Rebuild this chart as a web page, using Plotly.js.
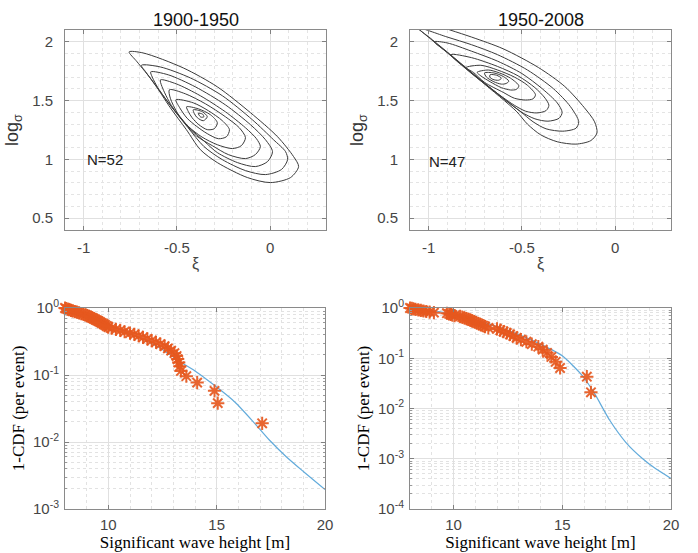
<!DOCTYPE html>
<html><head><meta charset="utf-8">
<script src="https://cdn.plot.ly/plotly-3.0.1.min.js"></script>
<style>html,body{margin:0;padding:0;background:#fff;}#chart{width:698px;height:553px;}</style>
</head><body><div id="chart"></div>
<script>
// ---------- Panel titles / labels ----------
const panelTitles = ['1900-1950', '1950-2008'];
const sampleLabels = ['N=52', 'N=47'];

// ---------- Top-left: likelihood contours (xi, log sigma), 1900-1950 ----------
const tlC1x = [-0.756,-0.681,-0.466,-0.283,-0.105,0.040,0.126,0.153,0.110,0.002,-0.122,-0.283,-0.374,-0.449,-0.535,-0.627,-0.713,-0.756];
const tlC1y = [1.914,1.905,1.778,1.617,1.397,1.193,1.024,0.939,0.846,0.803,0.846,0.973,1.083,1.253,1.439,1.659,1.829,1.914];
const tlC2x = [-0.690,-0.589,-0.428,-0.256,-0.095,0.018,0.083,0.094,0.061,-0.025,-0.132,-0.256,-0.355,-0.44,-0.53,-0.615,-0.665,-0.690];
const tlC2y = [1.800,1.786,1.693,1.541,1.337,1.168,1.066,0.998,0.914,0.871,0.905,0.998,1.11,1.27,1.45,1.63,1.74,1.800];
const tlC3x = [-0.640,-0.546,-0.401,-0.240,-0.105,-0.025,0.013,-0.014,-0.079,-0.175,-0.283,-0.350,-0.440,-0.525,-0.602,-0.632,-0.640];
const tlC3y = [1.744,1.719,1.617,1.464,1.295,1.168,1.066,0.981,0.939,0.973,1.058,1.15,1.28,1.44,1.61,1.70,1.744];
const tlC4x = [-0.588,-0.503,-0.374,-0.240,-0.132,-0.073,-0.052,-0.079,-0.132,-0.224,-0.310,-0.395,-0.458,-0.530,-0.580,-0.588];
const tlC4y = [1.676,1.642,1.541,1.405,1.269,1.176,1.108,1.041,1.007,1.041,1.117,1.20,1.31,1.46,1.62,1.676];
const tlC5x = [-0.540,-0.455,-0.347,-0.240,-0.165,-0.132,-0.154,-0.202,-0.283,-0.365,-0.438,-0.495,-0.535,-0.540];
const tlC5y = [1.592,1.558,1.473,1.363,1.269,1.185,1.117,1.092,1.125,1.19,1.28,1.39,1.52,1.592];
const tlC6x = [-0.505,-0.412,-0.331,-0.256,-0.218,-0.234,-0.277,-0.337,-0.393,-0.445,-0.485,-0.505];
const tlC6y = [1.507,1.481,1.414,1.329,1.253,1.193,1.176,1.219,1.28,1.35,1.44,1.507];
const tlC7x = [-0.448,-0.385,-0.320,-0.283,-0.299,-0.337,-0.382,-0.418,-0.438,-0.448];
const tlC7y = [1.447,1.430,1.380,1.312,1.261,1.253,1.295,1.354,1.405,1.447];
const tlC8x = [-0.412,-0.363,-0.337,-0.358,-0.39,-0.406,-0.412];
const tlC8y = [1.422,1.405,1.363,1.329,1.354,1.388,1.422];
const tlC9x = [-0.385,-0.362,-0.355,-0.372,-0.385];
const tlC9y = [1.392,1.385,1.362,1.360,1.392];

// ---------- Top-right: likelihood contours, 1950-2008 ----------
const trC1x = [-1.20,-1.10,-1.00,-0.77,-0.60,-0.41,-0.27,-0.165,-0.11,-0.097,-0.13,-0.21,-0.31,-0.40,-0.47,-0.53,-0.72,-0.88,-1.04,-1.20];
const trC1y = [2.30,2.22,2.16,2.04,1.94,1.78,1.62,1.44,1.32,1.225,1.16,1.13,1.15,1.21,1.30,1.41,1.667,1.88,2.09,2.30];
const trC2x = [-1.06,-0.90,-0.77,-0.63,-0.47,-0.33,-0.24,-0.195,-0.21,-0.28,-0.37,-0.44,-0.51,-0.61,-0.755,-0.875,-0.99,-1.06];
const trC2y = [2.12,2.04,1.975,1.89,1.76,1.60,1.45,1.32,1.265,1.24,1.26,1.32,1.41,1.53,1.72,1.88,2.03,2.12];
const trC3x = [-0.97,-0.90,-0.77,-0.63,-0.50,-0.39,-0.31,-0.284,-0.30,-0.36,-0.43,-0.50,-0.56,-0.65,-0.78,-0.90,-0.97];
const trC3y = [2.00,1.99,1.92,1.835,1.73,1.60,1.48,1.40,1.35,1.325,1.345,1.40,1.47,1.585,1.75,1.91,2.00];
const trC4x = [-0.88,-0.77,-0.63,-0.52,-0.43,-0.375,-0.355,-0.37,-0.42,-0.48,-0.54,-0.60,-0.69,-0.80,-0.88];
const trC4y = [1.89,1.865,1.79,1.71,1.61,1.52,1.46,1.415,1.395,1.41,1.46,1.525,1.63,1.77,1.89];
const trC5x = [-0.80,-0.72,-0.63,-0.54,-0.47,-0.427,-0.44,-0.48,-0.54,-0.60,-0.70,-0.76,-0.80];
const trC5y = [1.78,1.80,1.76,1.70,1.63,1.55,1.515,1.505,1.52,1.57,1.655,1.74,1.78];
const trC6x = [-0.74,-0.68,-0.62,-0.56,-0.516,-0.53,-0.56,-0.61,-0.67,-0.72,-0.74];
const trC6y = [1.74,1.76,1.735,1.69,1.625,1.595,1.59,1.61,1.66,1.71,1.74];
const trC7x = [-0.70,-0.65,-0.60,-0.57,-0.585,-0.61,-0.65,-0.69,-0.70];
const trC7y = [1.735,1.735,1.705,1.665,1.645,1.64,1.66,1.70,1.735];
const trC8x = [-0.67,-0.635,-0.61,-0.625,-0.655,-0.672,-0.67];
const trC8y = [1.72,1.715,1.69,1.673,1.68,1.70,1.72];

// ---------- Bottom-left: exceedance, 1900-1950 ----------
const blHs = [8.00,8.05,8.12,8.20,8.28,8.35,8.45,8.55,8.65,8.75,8.85,8.95,9.03,9.10,9.18,9.25,9.32,9.40,9.48,9.55,9.62,9.70,9.78,9.85,9.92,10.00,10.15,10.35,10.55,10.75,11.00,11.20,11.40,11.60,11.80,12.00,12.20,12.40,12.60,12.75,12.90,13.05,13.15,13.20,13.25,13.30,13.35,13.60,14.10,14.90,15.05,17.10];
const blExc = [1.000,0.981,0.962,0.942,0.923,0.904,0.885,0.865,0.846,0.827,0.808,0.788,0.769,0.750,0.731,0.712,0.692,0.673,0.654,0.635,0.615,0.596,0.577,0.558,0.538,0.519,0.500,0.481,0.462,0.442,0.423,0.404,0.385,0.365,0.346,0.327,0.308,0.288,0.269,0.250,0.231,0.212,0.192,0.173,0.154,0.135,0.115,0.096,0.077,0.058,0.038,0.019];
const blFitHs = [8,9,10,11,12,12.6,13.2,14.0,15.0,15.86,16.64,17.43,18.21,19.0,20];
const blFitExc = [1.0,0.794,0.562,0.417,0.295,0.229,0.166,0.115,0.066,0.0389,0.0209,0.0107,0.00603,0.00363,0.00195];

// ---------- Bottom-right: exceedance, 1950-2008 ----------
const brHs = [8.00,8.08,8.15,8.25,8.38,8.50,8.62,8.75,8.90,9.10,9.70,9.80,9.88,9.95,10.05,10.30,10.40,10.50,10.60,10.70,10.78,10.85,10.95,11.05,11.15,11.25,11.35,11.45,11.60,12.00,12.15,12.30,12.45,12.60,12.75,12.90,13.10,13.35,13.60,13.90,14.10,14.30,14.50,14.70,14.90,16.13,16.32];
const brExc = [1.000,0.979,0.957,0.936,0.915,0.894,0.872,0.851,0.830,0.809,0.787,0.766,0.745,0.723,0.702,0.681,0.660,0.638,0.617,0.596,0.574,0.553,0.532,0.511,0.489,0.468,0.447,0.426,0.404,0.383,0.362,0.340,0.319,0.298,0.277,0.255,0.234,0.213,0.191,0.170,0.149,0.128,0.106,0.085,0.064,0.043,0.021];
const brFitHs = [8,9,10,11,12,13,14,15.0,15.93,16.47,17.16,17.93,18.7,19.3,20];
const brFitExc = [1.0,0.891,0.759,0.589,0.427,0.295,0.191,0.112,0.0447,0.0204,0.00603,0.00210,0.00100,0.00063,0.000407];

// ---------- Tick labels ----------
const xiTicks = [-1, -0.5, 0];
const xiTickText = ['-1', '-0.5', '0'];
const lsTicks = [0.5, 1, 1.5, 2];
const lsTickText = ['0.5', '1', '1.5', '2'];
const hsTicks = [10, 15, 20];
const hsTickText = ['10', '15', '20'];
const blYTicks = [0.001, 0.01, 0.1, 1];
const blYTickText = ['10<sup>-3</sup>', '10<sup>-2</sup>', '10<sup>-1</sup>', '10<sup>0</sup>'];
const brYTicks = [0.0001, 0.001, 0.01, 0.1, 1];
const brYTickText = ['10<sup>-4</sup>', '10<sup>-3</sup>', '10<sup>-2</sup>', '10<sup>-1</sup>', '10<sup>0</sup>'];

// ---------- Styling ----------
const SANS = 'Liberation Sans, Arial, Helvetica, sans-serif';
const SERIF = 'Liberation Serif, Times New Roman, serif';
const contourColor = '#3b3b3b';
const markerColor = 'rgba(230,88,30,0.92)';
const fitColor = '#62ABDB';
const W = 698, H = 553;

const traces = [];
function addContours(list, xa, ya) {
  list.forEach(([cx, cy]) => traces.push({
    type: 'scatter', mode: 'lines', x: cx, y: cy, xaxis: xa, yaxis: ya,
    line: {color: contourColor, width: 1, shape: 'spline', smoothing: 0.8},
    hoverinfo: 'skip'
  }));
}
addContours([[tlC1x,tlC1y],[tlC2x,tlC2y],[tlC3x,tlC3y],[tlC4x,tlC4y],[tlC5x,tlC5y],[tlC6x,tlC6y],[tlC7x,tlC7y],[tlC8x,tlC8y],[tlC9x,tlC9y]], 'x', 'y');
addContours([[trC1x,trC1y],[trC2x,trC2y],[trC3x,trC3y],[trC4x,trC4y],[trC5x,trC5y],[trC6x,trC6y],[trC7x,trC7y],[trC8x,trC8y]], 'x2', 'y2');

traces.push({type:'scatter', mode:'lines', x: blFitHs, y: blFitExc, xaxis:'x3', yaxis:'y3',
  line:{color: fitColor, width: 1.2, shape:'spline', smoothing:0.6}});
traces.push({type:'scatter', mode:'markers', x: blHs, y: blExc, xaxis:'x3', yaxis:'y3', cliponaxis:false,
  marker:{symbol:'asterisk-open', size:11, color: markerColor, line:{color: markerColor, width:2}}});
traces.push({type:'scatter', mode:'lines', x: brFitHs, y: brFitExc, xaxis:'x4', yaxis:'y4',
  line:{color: fitColor, width: 1.2, shape:'spline', smoothing:0.6}});
traces.push({type:'scatter', mode:'markers', x: brHs, y: brExc, xaxis:'x4', yaxis:'y4', cliponaxis:false,
  marker:{symbol:'asterisk-open', size:11, color: markerColor, line:{color: markerColor, width:2}}});

function dom(a, b, total) { return [a / total, b / total]; }
function ydom(top, bottom) { return [1 - bottom / H, 1 - top / H]; }

const baseAxis = {
  ticks: 'inside', ticklen: 4, tickcolor: '#808080', showline: true, mirror: 'ticks',
  linecolor: '#8a8a8a', linewidth: 1, showgrid: true, gridcolor: '#e0e0e0', gridwidth: 1,
  zeroline: false, tickmode: 'array', fixedrange: true,
  tickfont: {family: SANS, size: 15, color: '#454545'}
};
function ax(extra) { return Object.assign({}, baseAxis, extra); }

const topMinorX = {tick0: 0, dtick: 0.1, showgrid: true, gridcolor: '#e4e4e4', griddash: 'dot', ticks: ''};
const topMinorY = {tick0: 0, dtick: 0.1, showgrid: true, gridcolor: '#e4e4e4', griddash: 'dot', ticks: ''};
const botMinorX = {tick0: 8, dtick: 1, showgrid: true, gridcolor: '#e2e2e2', griddash: 'dot', ticks: ''};
const botMinorY = {dtick: 'D1', showgrid: true, gridcolor: '#e2e2e2', griddash: 'dot', ticks: 'inside', ticklen: 2, tickcolor: '#999'};

const xiTitle = {text: 'ξ', font: {family: SANS, size: 16, color: '#454545'}, standoff: 2};
const lsTitle = {text: 'log<sub>σ</sub>', font: {family: SANS, size: 18, color: '#333'}, standoff: 8};
const hsTitle = {text: 'Significant wave height [m]', font: {family: SERIF, size: 17, color: '#000'}, standoff: 1};
const cdfTitle = {text: '1-CDF (per event)', font: {family: SERIF, size: 17, color: '#000'}, standoff: 4};

const layout = {
  width: W, height: H, margin: {l: 0, r: 0, t: 0, b: 0},
  paper_bgcolor: '#fff', plot_bgcolor: '#fff', showlegend: false,
  xaxis: ax({domain: dom(65, 326, W), anchor: 'y', range: [-1.1, 0.3], tickvals: xiTicks, ticktext: xiTickText, minor: topMinorX, title: xiTitle, ticklabelstandoff: 4}),
  yaxis: ax({domain: ydom(30, 230), anchor: 'x', range: [0.4, 2.1], tickvals: lsTicks, ticktext: lsTickText, minor: topMinorY, title: lsTitle, ticklabelstandoff: 8}),
  xaxis2: ax({domain: dom(410, 671, W), anchor: 'y2', range: [-1.1, 0.3], tickvals: xiTicks, ticktext: xiTickText, minor: topMinorX, title: xiTitle, ticklabelstandoff: 4}),
  yaxis2: ax({domain: ydom(30, 230), anchor: 'x2', range: [0.4, 2.1], tickvals: lsTicks, ticktext: lsTickText, minor: topMinorY, title: lsTitle, ticklabelstandoff: 8}),
  xaxis3: ax({domain: dom(65, 325, W), anchor: 'y3', range: [8, 20], tickvals: hsTicks, ticktext: hsTickText, minor: botMinorX, title: hsTitle, ticklabelstandoff: 2}),
  yaxis3: ax({domain: ydom(308, 509), anchor: 'x3', type: 'log', range: [-3, 0], tickvals: blYTicks, ticktext: blYTickText, minor: botMinorY, title: cdfTitle, ticklabelstandoff: 2}),
  xaxis4: ax({domain: dom(410, 671, W), anchor: 'y4', range: [8, 20], tickvals: hsTicks, ticktext: hsTickText, minor: botMinorX, title: hsTitle, ticklabelstandoff: 2}),
  yaxis4: ax({domain: ydom(308, 509), anchor: 'x4', type: 'log', range: [-4, 0], tickvals: brYTicks, ticktext: brYTickText, minor: botMinorY, title: cdfTitle, ticklabelstandoff: 2}),
  annotations: [
    {text: panelTitles[0], xref: 'x domain', yref: 'paper', x: 0.5, y: 1 - 20 / H, showarrow: false, yanchor: 'middle',
     font: {family: SANS, size: 18, color: '#111'}},
    {text: panelTitles[1], xref: 'x2 domain', yref: 'paper', x: 0.5, y: 1 - 20 / H, showarrow: false, yanchor: 'middle',
     font: {family: SANS, size: 18, color: '#111'}},
    {text: sampleLabels[0], xref: 'x', yref: 'y', x: -0.885, y: 1.0, showarrow: false,
     font: {family: SANS, size: 15, color: '#222'}},
    {text: sampleLabels[1], xref: 'x2', yref: 'y2', x: -0.903, y: 0.985, showarrow: false,
     font: {family: SANS, size: 15, color: '#222'}}
  ]
};

Plotly.newPlot('chart', traces, layout, {staticPlot: true, displayModeBar: false});
</script></body></html>
